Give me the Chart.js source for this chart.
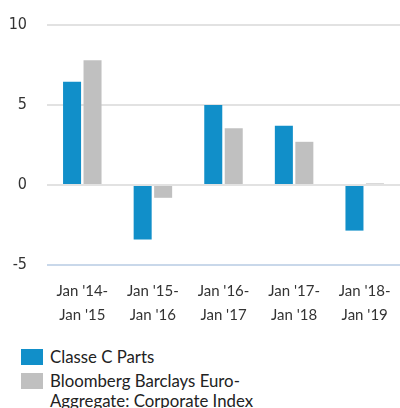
<!DOCTYPE html>
<html>
<head>
<meta charset="utf-8">
<script src="https://cdn.jsdelivr.net/npm/chart.js@4"></script>
<style>
  html, body { margin: 0; padding: 0; background: #fff; }
  #wrap { width: 400px; height: 336px; position: relative; }
  #legend { margin: 11px 0 0 21px; font-family: Lato, "Open Sans", sans-serif; font-size: 16.8px; color: #222; line-height: 20px; }
  .item { display: flex; align-items: flex-start; margin-bottom: 4px; }
  .box { width: 22px; height: 16px; margin-right: 7px; margin-top: 2px; flex: none; }
</style>
</head>
<body>
<div id="wrap"><canvas id="chart"></canvas></div>
<div id="legend"></div>
<script>
// period labels, two lines each
const categories = [
    ["Jan '14-", "Jan '15"],
    ["Jan '15-", "Jan '16"],
    ["Jan '16-", "Jan '17"],
    ["Jan '17-", "Jan '18"],
    ["Jan '18-", "Jan '19"],
];
const fundValues = [6.45, -3.4, 5.0, 3.7, -2.85];
const indexValues = [7.8, -0.8, 3.55, 2.7, 0.1];
const seriesNames = ["Classe C Parts", "Bloomberg Barclays Euro-\nAggregate: Corporate Index"];
const yTicks = [-5, 0, 5, 10];

const BLUE = "#118fc9";
const GREY = "#c0c0c0";

const chart = new Chart(document.getElementById("chart"), {
    type: "bar",
    data: {
        labels: categories,
        datasets: [
            {
                label: seriesNames[0],
                data: fundValues,
                backgroundColor: BLUE,
                categoryPercentage: 0.58,
                barPercentage: 0.88,
            },
            {
                label: seriesNames[1],
                data: indexValues,
                backgroundColor: GREY,
                categoryPercentage: 0.58,
                barPercentage: 0.88,
            },
        ],
    },
    options: {
        responsive: true,
        maintainAspectRatio: false,
        animation: false,
        layout: { padding: { top: 25, left: 6, right: -4, bottom: 0 } },
        scales: {
            y: {
                min: -5,
                max: 10,
                afterBuildTicks: (axis) => { axis.ticks = yTicks.map(v => ({ value: v })); },
                afterFit: (axis) => {
                    axis.width = 41;
                    axis.paddingTop = 0;
                    axis.paddingBottom = 0;
                },
                border: { display: false },
                grid: {
                    color: (c) => c.tick && c.tick.value === -5 ? "#c9d8ea" : "#e2e2e2",
                    lineWidth: 2,
                    drawTicks: false,
                },
                ticks: {
                    color: "#333",
                    padding: 20,
                    font: { family: "'Liberation Sans Narrow', 'DejaVu Sans Condensed', sans-serif", size: 16 },
                },
            },
            x: {
                afterFit: (axis) => { axis.height = 71; },
                border: { display: false },
                grid: { display: false },
                ticks: {
                    color: "#333",
                    padding: 7,
                    maxRotation: 0,
                    font: { family: "Lato, 'Open Sans', sans-serif", size: 15, lineHeight: 1.55 },
                },
            },
        },
        plugins: {
            legend: { display: false },
            tooltip: { enabled: false },
        },
    },
});

// html legend so the long name can wrap onto two lines
const legendEl = document.getElementById("legend");
chart.data.datasets.forEach(ds => {
    const row = document.createElement("div");
    row.className = "item";
    const box = document.createElement("span");
    box.className = "box";
    box.style.background = ds.backgroundColor;
    const txt = document.createElement("span");
    txt.innerHTML = ds.label.replace("\n", "<br>");
    row.appendChild(box);
    row.appendChild(txt);
    legendEl.appendChild(row);
});
</script>
</body>
</html>
